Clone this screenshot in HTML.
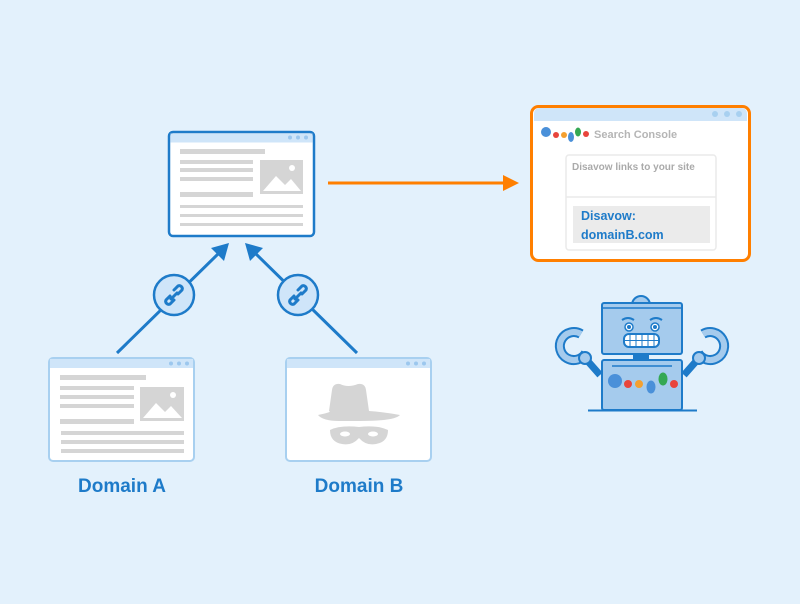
<!DOCTYPE html>
<html><head><meta charset="utf-8"><style>
html,body{margin:0;padding:0;background:#e3f1fc;width:800px;height:604px;overflow:hidden}
svg{display:block}
text{font-family:"Liberation Sans",sans-serif}
</style></head><body>
<svg width="800" height="604" viewBox="0 0 800 604" xmlns="http://www.w3.org/2000/svg">
<rect width="800" height="604" fill="#e3f1fc"/>
<!-- main window -->
<rect x="169" y="132" width="145" height="104" rx="4" fill="#fff" stroke="#1e7bc9" stroke-width="2.5"/>
<rect x="170.5" y="133.5" width="142" height="9" fill="#cfe5f9"/>
<circle cx="290" cy="137.5" r="2" fill="#9cc7ee"/><circle cx="298" cy="137.5" r="2" fill="#9cc7ee"/><circle cx="306" cy="137.5" r="2" fill="#9cc7ee"/>
<g fill="#d5d5d5">
<rect x="180" y="149" width="85" height="5"/>
<rect x="180" y="160" width="73" height="4"/><rect x="180" y="168" width="73" height="4"/><rect x="180" y="177" width="73" height="4"/>
<rect x="260" y="160" width="43" height="34"/>
<rect x="180" y="192" width="73" height="5"/>
<rect x="180" y="205" width="123" height="3"/><rect x="180" y="214" width="123" height="3"/><rect x="180" y="223" width="123" height="3"/>
</g>
<path d="M263,191 L276,176 L285,185 L291,179 L301,191 z" fill="#fff"/><circle cx="292" cy="168" r="3" fill="#fff"/>
<!-- arrows -->
<line x1="117" y1="353" x2="219" y2="253" stroke="#1e7bc9" stroke-width="3"/>
<line x1="357" y1="353" x2="255" y2="253" stroke="#1e7bc9" stroke-width="3"/>
<path d="M229,243 L224,261 L211,248 z" fill="#1e7bc9"/>
<path d="M245,243 L250,261 L263,248 z" fill="#1e7bc9"/>
<g stroke="#1e7bc9" stroke-width="2.5" fill="#cfe5f9">
<circle cx="174" cy="295" r="20"/><circle cx="298" cy="295" r="20"/>
</g>
<g stroke="#1e7bc9" stroke-width="3" fill="none" stroke-linecap="round">
<path d="M170,296 l-4,4 a3,3 0 0 0 4,4 l4,-4 M178,294 l4,-4 a3,3 0 0 0 -4,-4 l-4,4 M171,299 l6,-6"/>
<path d="M294,296 l-4,4 a3,3 0 0 0 4,4 l4,-4 M302,294 l4,-4 a3,3 0 0 0 -4,-4 l-4,4 M295,299 l6,-6"/>
</g>
<!-- domain A -->
<rect x="49" y="358" width="145" height="103" rx="4" fill="#fff" stroke="#a8d0f0" stroke-width="2"/>
<rect x="50" y="359" width="143" height="9" fill="#cfe5f9"/>
<circle cx="171" cy="363.5" r="2" fill="#9cc7ee"/><circle cx="179" cy="363.5" r="2" fill="#9cc7ee"/><circle cx="187" cy="363.5" r="2" fill="#9cc7ee"/>
<g fill="#d5d5d5">
<rect x="60" y="375" width="86" height="5"/>
<rect x="60" y="386" width="74" height="4"/><rect x="60" y="395" width="74" height="4"/><rect x="60" y="404" width="74" height="4"/>
<rect x="140" y="387" width="44" height="34"/>
<rect x="60" y="419" width="74" height="5"/>
<rect x="61" y="431" width="123" height="4"/><rect x="61" y="440" width="123" height="4"/><rect x="61" y="449" width="123" height="4"/>
</g>
<path d="M143,418 L156,403 L165,412 L171,406 L182,418 z" fill="#fff"/><circle cx="173" cy="395" r="3" fill="#fff"/>
<!-- domain B -->
<rect x="286" y="358" width="145" height="103" rx="4" fill="#fff" stroke="#a8d0f0" stroke-width="2"/>
<rect x="287" y="359" width="143" height="9" fill="#cfe5f9"/>
<circle cx="408" cy="363.5" r="2" fill="#9cc7ee"/><circle cx="416" cy="363.5" r="2" fill="#9cc7ee"/><circle cx="424" cy="363.5" r="2" fill="#9cc7ee"/>
<g fill="#d5d5d5">
<path d="M332,390 Q333,383 340,384 Q348,388 358,384 Q365,383 366,390 L369,411 Q384,412 400,415 Q395,421 360,421 L339,421 Q323,421 318,415 Q333,412 329,411 z"/>
<path d="M330,430 Q340,425 359,427 Q378,425 388,430 Q388,442 376,444 Q366,446 359,438 Q352,446 342,444 Q330,442 330,430 z"/>
</g>
<ellipse cx="345" cy="434" rx="5" ry="2.5" fill="#fff"/><ellipse cx="373" cy="434" rx="5" ry="2.5" fill="#fff"/>
<text x="122" y="492" text-anchor="middle" font-size="19" font-weight="bold" fill="#1e7bc9">Domain A</text>
<text x="359" y="492" text-anchor="middle" font-size="19" font-weight="bold" fill="#1e7bc9">Domain B</text>
<!-- orange arrow -->
<line x1="328" y1="183" x2="506" y2="183" stroke="#ff7f00" stroke-width="3"/>
<path d="M503,175 L519,183 L503,191 z" fill="#ff7f00"/>
<!-- search console -->
<rect x="531.5" y="106.5" width="218" height="154" rx="7" fill="#fff" stroke="#ff7f00" stroke-width="3"/>
<path d="M534,121 L534,114 Q534,108 540,108 L741,108 Q747,108 747,114 L747,121 z" fill="#cfe5f9"/>
<circle cx="715" cy="114" r="3" fill="#a8d0f0"/><circle cx="727" cy="114" r="3" fill="#a8d0f0"/><circle cx="739" cy="114" r="3" fill="#a8d0f0"/>
<circle cx="546" cy="132" r="5" fill="#4a90d9"/><circle cx="556" cy="135" r="3" fill="#e8453c"/><circle cx="564" cy="135" r="3" fill="#f4a030"/>
<ellipse cx="571" cy="137" rx="3" ry="5" fill="#4a90d9"/><ellipse cx="578" cy="132" rx="3" ry="4.5" fill="#34a853"/><circle cx="586" cy="134" r="3" fill="#e8453c"/>
<text x="594" y="138" font-size="11" font-weight="bold" fill="#b5b5b5">Search Console</text>
<rect x="566" y="155" width="150" height="95" rx="3" fill="#fff" stroke="#eaeaea" stroke-width="1.5"/>
<line x1="566" y1="197" x2="716" y2="197" stroke="#eaeaea" stroke-width="1.5"/>
<text x="572" y="170" font-size="10" font-weight="bold" fill="#aaa">Disavow links to your site</text>
<rect x="573" y="206" width="137" height="37" fill="#ebebeb"/>
<text x="581" y="220" font-size="12.5" font-weight="bold" fill="#1e7bc9">Disavow:</text>
<text x="581" y="239" font-size="12.5" font-weight="bold" fill="#1e7bc9">domainB.com</text>
<!-- robot -->
<g fill="none" stroke-linecap="butt">
<path d="M581,334 A14,14 0 1 0 586,353" stroke="#1e7bc9" stroke-width="10"/>
<path d="M581,334 A14,14 0 1 0 586,353" stroke="#a5cbed" stroke-width="6"/>
<path d="M703,334 A14,14 0 1 1 698,353" stroke="#1e7bc9" stroke-width="10"/>
<path d="M703,334 A14,14 0 1 1 698,353" stroke="#a5cbed" stroke-width="6"/>
</g>
<g stroke="#1e7bc9" stroke-width="2" fill="#a5cbed">
<path d="M632,305 a9,9 0 0 1 18,0 z"/>
<path d="M600,375 L585,358 M684,375 L699,358" stroke-width="7"/>
<circle cx="585" cy="358" r="6"/><circle cx="699" cy="358" r="6"/>
<rect x="602" y="303" width="80" height="51" rx="2"/>
<rect x="634" y="354" width="14" height="6" fill="#1e7bc9"/>
<rect x="602" y="360" width="80" height="50" rx="2"/>
</g>
<line x1="602" y1="308" x2="682" y2="308" stroke="#1e7bc9" stroke-width="1.5"/>
<line x1="612" y1="366" x2="672" y2="366" stroke="#1e7bc9" stroke-width="1.5"/>
<line x1="588" y1="410.5" x2="697" y2="410.5" stroke="#1e7bc9" stroke-width="2"/>
<path d="M622,320 q6,-4 12,0 M650,320 q6,-4 12,0" stroke="#1e7bc9" stroke-width="2" fill="none"/>
<circle cx="629" cy="327" r="4" fill="#fff" stroke="#1e7bc9" stroke-width="1.5"/><circle cx="629" cy="327" r="2" fill="#1e7bc9"/>
<circle cx="655" cy="327" r="4" fill="#fff" stroke="#1e7bc9" stroke-width="1.5"/><circle cx="655" cy="327" r="2" fill="#1e7bc9"/>
<rect x="624" y="334" width="35" height="13" rx="5" fill="#fff" stroke="#1e7bc9" stroke-width="2"/>
<path d="M630,334v13M636,334v13M642,334v13M648,334v13M654,334v13M624,340.5h35" stroke="#1e7bc9" stroke-width="1"/>
<circle cx="615" cy="381" r="7" fill="#4a90d9"/><circle cx="628" cy="384" r="4" fill="#e8453c"/><circle cx="639" cy="384" r="4" fill="#f4a030"/>
<ellipse cx="651" cy="387" rx="4.5" ry="6.5" fill="#4a90d9"/><ellipse cx="663" cy="379" rx="4.5" ry="6.5" fill="#34a853"/><circle cx="674" cy="384" r="4" fill="#e8453c"/>
</svg>
</body></html>
